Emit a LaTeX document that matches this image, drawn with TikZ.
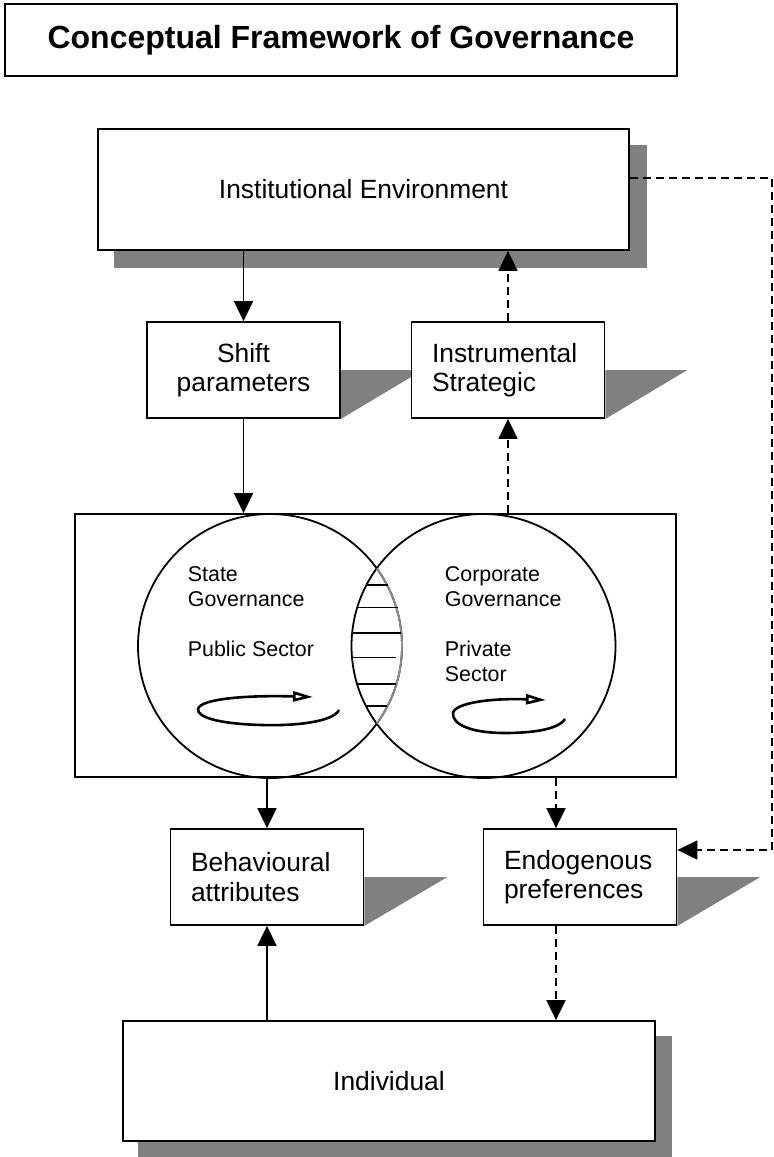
\documentclass[tikz,border=0pt]{standalone}
\usepackage{fontspec}
\setmainfont{Liberation Sans}
\usetikzlibrary{positioning, arrows.meta, backgrounds}

\begin{document}
\begin{tikzpicture}[x=0.5pt, y=-0.5pt, line width=0.9pt]
    \tikzset{box/.style = {draw, fill=white, inner sep=0pt, minimum width=96.5pt, minimum height=48pt, font=\fontsize{13.2}{14.6}\selectfont, align=center}}
    \tikzset{leftbox/.style = {box, align=left, text width=76pt}}
    \tikzset{link/.style = {-{Triangle[length=10pt,width=9.5pt]}}}
    \tikzset{dlink/.style = {link, dash pattern=on 4pt off 2.5pt}}
    \tikzset{shade/.style = {fill=black!50}}
    \tikzset{sector/.style = {font=\fontsize{10.7}{12.5}\selectfont, align=left, anchor=north west, inner sep=0pt}}
    \tikzset{cycle/.style = {line width=1.3pt, -{Triangle[open,length=10pt,width=5pt,fill=white]}}}

    \useasboundingbox (0,0) rectangle (773,1157);

    \node[draw, inner sep=0pt, minimum width=336pt, minimum height=36pt, font=\bfseries\fontsize{16}{19}\selectfont] (title) at (341,40) {Conceptual Framework of Governance};

    \node[box, minimum width=265.5pt, minimum height=60.5pt] (inst) at (363.5,189.5) {Institutional Environment};
    \node[box] (shiftp) at (243.5,370) {Shift\\parameters};
    \node[leftbox] (instr) at (508,370) {Instrumental\\Strategic};
    \node[draw, inner sep=0pt, minimum width=300.5pt, minimum height=131.5pt] (venn) at (375.5,645.5) {};
    \node[leftbox] (behav) at (267,877) {Behavioural\\attributes};
    \node[leftbox] (endo) at (580,877) {Endogenous\\preferences};
    \node[box, minimum width=266pt, minimum height=60pt] (indiv) at (389,1081) {Individual};

    % shadows
    \begin{scope}[on background layer]
        \fill[shade] ([shift={(17,17)}]inst.north west) rectangle ([shift={(17,17)}]inst.south east);
        \fill[shade] ([shift={(16,16)}]indiv.north west) rectangle ([shift={(16,16)}]indiv.south east);
        \fill[shade] (shiftp.east) -- ++(82,0) -- (shiftp.south east) -- cycle;
        \fill[shade] (instr.east) -- ++(82,0) -- (instr.south east) -- cycle;
        \fill[shade] (behav.east) -- ++(83,0) -- (behav.south east) -- cycle;
        \fill[shade] (endo.east) -- ++(83,0) -- (endo.south east) -- cycle;
    \end{scope}

    % sectors
    \node[circle, draw, minimum size=132pt, inner sep=0pt] (state) at (270,646) {};
    \node[circle, draw, minimum size=132pt, inner sep=0pt] (corp) at (483.5,646) {};
    \begin{scope}
        \clip (corp.center) circle[radius=66pt];
        \draw[black!45] (state.center) circle[radius=66pt];
        \foreach \y/\xr in {585/388, 607.5/398, 633/401, 657.5/396, 684/396, 706/387}
            \draw (330,\y) -- (\xr,\y);
    \end{scope}

    \node[sector] (stgov) at (187,566) {State\\Governance};
    \node[sector] (pubs) at (187,640) {Public Sector};
    \node[sector] (cogov) at (444,566) {Corporate\\Governance};
    \node[sector] (privs) at (444,640) {Private\\Sector};

    \draw[cycle] (339,710) .. controls (333,722) and (295,726) .. (262,725)
        .. controls (222,724) and (197,718) .. (198,709)
        .. controls (200,699) and (245,695) .. (313,697);
    \draw[cycle] (565,719) .. controls (558,730) and (530,733) .. (505,733)
        .. controls (470,733) and (452,724) .. (453,713)
        .. controls (455,703) and (490,698) .. (546,700);

    % links
    \coordinate (iout) at ([yshift=5.75pt]inst.east);
    \coordinate (rail) at (772,0);
    \coordinate (ein) at ([yshift=13.5pt]endo.east);
    \coordinate (etop) at ([xshift=-12pt]endo.north);
    \coordinate (ebot) at ([xshift=-12pt]endo.south);

    \draw[link] (shiftp.north |- inst.south) -- (shiftp.north);
    \draw[dlink] (instr.north) -- (instr.north |- inst.south);
    \draw[link] (shiftp.south) -- (shiftp.south |- venn.north);
    \draw[dlink] (instr.south |- venn.north) -- (instr.south);
    \draw[link] (behav.north |- venn.south) -- (behav.north);
    \draw[dlink] (etop |- venn.south) -- (etop);
    \draw[link] (behav.south |- indiv.north) -- (behav.south);
    \draw[dlink] (ebot) -- (ebot |- indiv.north);
    \draw[dlink] (iout) -- (iout -| rail) -- (rail |- ein) -- (ein);

\end{tikzpicture}
\end{document}
